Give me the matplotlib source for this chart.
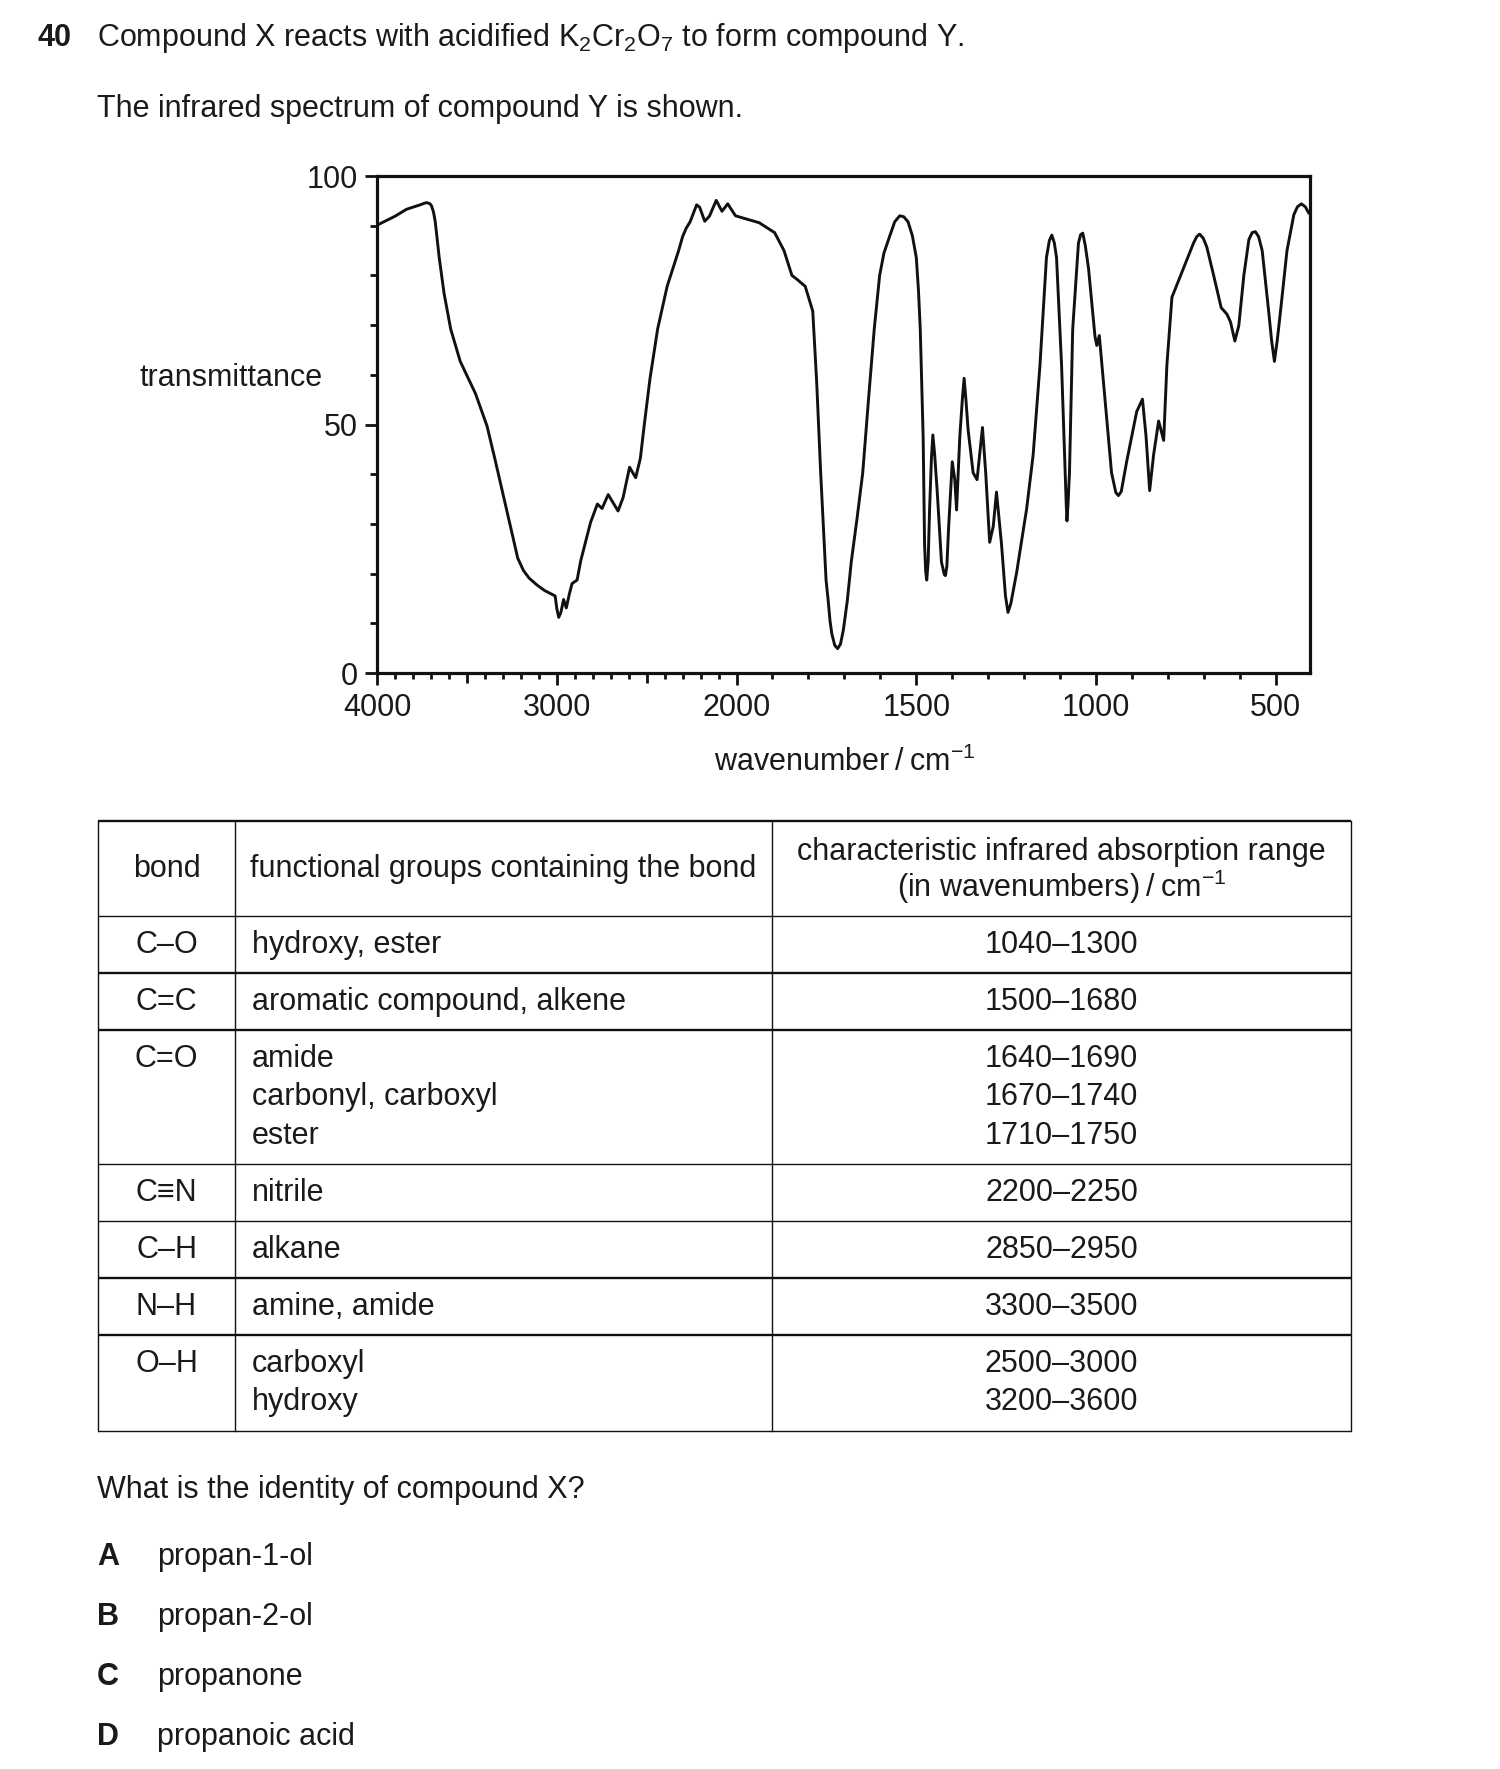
import matplotlib
matplotlib.use('Agg')
import matplotlib.pyplot as plt
import numpy as np

plt.rcParams['font.family'] = ['Liberation Sans', 'DejaVu Sans']
plt.rcParams['mathtext.default'] = 'regular'

INK = '#1a1a1a'
FS = 22

# IR spectrum of compound Y
wavenumber = [4000, 3950, 3900, 3836, 3760, 3730, 3719, 3705, 3697, 3686, 3676, 3654,
              3627, 3590, 3537, 3452, 3388, 3345, 3281, 3217, 3185, 3154, 3110, 3068,
              3009, 3000, 2989, 2977, 2962, 2947, 2930, 2915, 2887, 2866, 2812, 2774,
              2748, 2714, 2659, 2631, 2595, 2561, 2535, 2514, 2482, 2439, 2386, 2322,
              2300, 2280, 2258, 2222, 2205, 2177, 2151, 2113, 2081, 2049, 2006, 1980,
              1937, 1894, 1868, 1846, 1830, 1809, 1788, 1777, 1766, 1751, 1745, 1740,
              1735, 1727, 1719, 1711, 1703, 1692, 1681, 1665, 1649, 1633, 1617, 1602,
              1590, 1574, 1560, 1546, 1535, 1523, 1511, 1500, 1494, 1489, 1481, 1477,
              1474, 1471, 1467, 1463, 1458, 1454, 1449, 1442, 1430, 1422, 1419, 1415,
              1410, 1400, 1393, 1388, 1379, 1372, 1367, 1362, 1356, 1342, 1331, 1316,
              1307, 1296, 1286, 1277, 1263, 1252, 1245, 1237, 1221, 1193, 1175, 1156,
              1138, 1130, 1123, 1116, 1110, 1096, 1086, 1083, 1081, 1078, 1074, 1065,
              1049, 1043, 1037, 1030, 1021, 1003, 998, 991, 975, 957, 945, 938, 930,
              915, 887, 871, 861, 851, 840, 826, 812, 803, 789, 757, 729, 720, 712, 702,
              692, 673, 652, 636, 626, 614, 603, 589, 575, 566, 557, 548, 538, 520,
              512, 504, 496, 487, 469, 450, 440, 429, 418, 409]
transmittance = [90.1, 91.0, 91.9, 93.3, 94.2, 94.6, 94.6, 94.4, 94.0, 92.8, 90.8, 83.6,
                 76.4, 69.2, 62.7, 56.2, 49.7, 43.2, 33.1, 23.1, 20.6, 19.1, 17.7, 16.6,
                 15.5, 13.0, 11.2, 12.2, 14.8, 13.1, 15.9, 18.0, 18.7, 22.7, 30.3, 34.0,
                 33.1, 35.9, 32.6, 35.3, 41.4, 39.3, 43.2, 49.7, 59.1, 69.2, 77.8, 85.0,
                 87.8, 89.5, 90.8, 94.2, 93.7, 90.9, 91.9, 95.1, 92.9, 94.4, 92.0, 91.5,
                 90.6, 88.6, 85.0, 80.0, 79.1, 77.8, 72.8, 58.4, 40.3, 18.7, 14.5, 10.5,
                 7.9, 5.6, 4.9, 5.8, 8.6, 14.5, 22.3, 31.0, 40.3, 55.0, 69.2, 80.0,
                 84.5, 87.9, 90.8, 92.0, 91.8, 90.8, 88.0, 83.6, 77.0, 69.2, 47.6, 25.9,
                 20.5, 18.7, 22.5, 33.1, 43.0, 47.9, 44.0, 36.7, 22.3, 19.8, 19.6, 21.5,
                 29.5, 42.5, 38.9, 32.8, 47.6, 55.0, 59.3, 55.0, 49.0, 40.3, 38.9, 49.4,
                 40.3, 26.3, 29.5, 36.4, 25.9, 15.5, 12.2, 14.0, 20.2, 33.1, 43.9, 62.0,
                 83.6, 87.0, 88.1, 86.5, 83.6, 62.0, 40.3, 34.0, 30.6, 34.0, 40.3, 69.2,
                 86.5, 88.2, 88.5, 86.0, 81.4, 67.7, 65.9, 67.9, 54.8, 40.3, 36.3, 35.7, 36.5,
                 42.5, 52.6, 55.1, 47.6, 36.7, 43.9, 50.7, 46.8, 62.0, 75.6, 81.4, 86.5, 87.8, 88.3, 87.5,
                 85.7, 80.0, 73.5, 72.2, 70.6, 66.8, 69.9, 80.0, 87.2, 88.6, 88.8, 87.8, 85.0, 72.8,
                 67.0, 62.7, 67.0, 72.8, 85.0, 92.2, 93.8, 94.4, 93.8, 92.6]

x_major = [4000, 3500, 3000, 2500, 2000, 1500, 1000, 500]
x_labels = ['4000', '', '3000', '', '2000', '1500', '1000', '500']
x_minor = [w for w in range(3900, 400, -100) if w not in x_major]
y_major = [0, 50, 100]
y_minor = [10, 20, 30, 40, 60, 70, 80, 90]

# data table
bonds = ['C–O', 'C=C', 'C=O', 'C≡N', 'C–H', 'N–H', 'O–H']
groups = [['hydroxy, ester'],
          ['aromatic compound, alkene'],
          ['amide', 'carbonyl, carboxyl', 'ester'],
          ['nitrile'],
          ['alkane'],
          ['amine, amide'],
          ['carboxyl', 'hydroxy']]
ranges = [['1040–1300'],
          ['1500–1680'],
          ['1640–1690', '1670–1740', '1710–1750'],
          ['2200–2250'],
          ['2850–2950'],
          ['3300–3500'],
          ['2500–3000', '3200–3600']]
header = ['bond', 'functional groups containing the bond',
          ['characteristic infrared absorption range', '(in wavenumbers)\u2009/\u2009cm$^{-1}$']]

letters = ['A', 'B', 'C', 'D']
answers = ['propan-1-ol', 'propan-2-ol', 'propanone', 'propanoic acid']

W, H = 1500, 1769
fig = plt.figure(figsize=(W / 100, H / 100), dpi=100)

# page layer in pixel coordinates for the question text and the table
page = fig.add_axes([0, 0, 1, 1])
page.set_xlim(0, W)
page.set_ylim(H, 0)
page.axis('off')

page.text(38, 46, '40', fontsize=FS, fontweight='bold', color=INK, va='baseline')
page.text(97, 46, 'Compound X reacts with acidified K$_2$Cr$_2$O$_7$ to form compound Y.',
          fontsize=FS, color=INK, va='baseline')
page.text(97, 117, 'The infrared spectrum of compound Y is shown.', fontsize=FS, color=INK, va='baseline')

# spectrum, x axis compressed by half above 2000 cm-1
def fwd(x):
    x = np.asarray(x, dtype=float)
    return np.where(x > 2000, 2000 + (x - 2000) / 2, x)

def inv(u):
    u = np.asarray(u, dtype=float)
    return np.where(u > 2000, 2000 + (u - 2000) * 2, u)

ax = fig.add_axes([377 / W, 1 - 673 / H, 933 / W, 497 / H])
ax.plot(wavenumber, transmittance, color='#111111', lw=2.1, solid_joinstyle='round')
ax.set_xscale('function', functions=(fwd, inv))
ax.set_xlim(4000, 405)
ax.set_ylim(0, 100)

ax.set_xticks(x_major)
ax.set_xticklabels(x_labels)
ax.set_xticks(x_minor, minor=True)
ax.set_yticks(y_major)
ax.set_yticks(y_minor, minor=True)
for s in ax.spines.values():
    s.set_linewidth(2.3)
    s.set_color('#111111')
ax.tick_params(axis='both', which='major', direction='out', length=8.5, width=2,
               labelsize=FS, colors='#111111', labelcolor=INK)
ax.tick_params(axis='x', which='minor', direction='out', length=4.6, width=2, colors='#111111')
ax.tick_params(axis='y', which='minor', direction='out', length=5, width=2, colors='#111111')
ax.tick_params(axis='x', which='major', pad=6)
ax.tick_params(axis='y', which='major', pad=5)
for t, lab in zip(ax.xaxis.get_major_ticks(), x_labels):
    if lab == '':
        t.tick1line.set_markersize(7.2)

ax.set_xlabel('wavenumber\u2009/\u2009cm$^{-1}$', fontsize=FS, color=INK)
ax.xaxis.set_label_coords(0.5016, -0.18)
ax.xaxis.label.set_verticalalignment('center')
ax.set_ylabel('transmittance', fontsize=FS, color=INK, rotation=0)
ax.yaxis.set_label_coords(-0.0588, 0.594)
ax.yaxis.label.set_horizontalalignment('right')
ax.yaxis.label.set_verticalalignment('center')

# table
x0, c1, c2, x1 = 98, 235, 772, 1351
top, head_h, row_h, line_h = 821, 95, 57, 38.5
thick = [True, False, True, True, False, False, True, True, False]

bounds = [top, top + head_h]
for g in groups:
    bounds.append(bounds[-1] + row_h + line_h * (len(g) - 1))

for y, tk in zip(bounds, thick):
    page.plot([x0, x1], [y, y], color='#111111', lw=1.7 if tk else 1.0, solid_capstyle='butt')
for x in (x0, c1, c2, x1):
    page.plot([x, x], [bounds[0], bounds[-1]], color='#111111', lw=1.0)

hy = (bounds[0] + bounds[1]) / 2
page.text((x0 + c1) / 2, hy, header[0], fontsize=FS, color=INK, ha='center', va='center')
page.text(250, hy, header[1], fontsize=FS, color=INK, ha='left', va='center')
page.text((c2 + x1) / 2, hy - 17, header[2][0], fontsize=FS, color=INK, ha='center', va='center')
page.text((c2 + x1) / 2, hy + 18, header[2][1], fontsize=FS, color=INK, ha='center', va='center')

for i, (b, g, r) in enumerate(zip(bonds, groups, ranges)):
    y = bounds[i + 1] + 28.5
    page.text((x0 + c1) / 2, y, b, fontsize=FS, color=INK, ha='center', va='center')
    for j, txt in enumerate(g):
        page.text(252, y + j * line_h, txt, fontsize=FS, color=INK, ha='left', va='center')
    for j, txt in enumerate(r):
        page.text((c2 + x1) / 2, y + j * line_h, txt, fontsize=FS, color=INK, ha='center', va='center')

# question and options
page.text(97, 1498, 'What is the identity of compound X?', fontsize=FS, color=INK, va='baseline')
for k, (l, a) in enumerate(zip(letters, answers)):
    yb = 1565 + k * 60
    page.text(97, yb, l, fontsize=FS, fontweight='bold', color=INK, va='baseline')
    page.text(157, yb, a, fontsize=FS, color=INK, va='baseline')

fig.savefig('out.png', dpi=100)
